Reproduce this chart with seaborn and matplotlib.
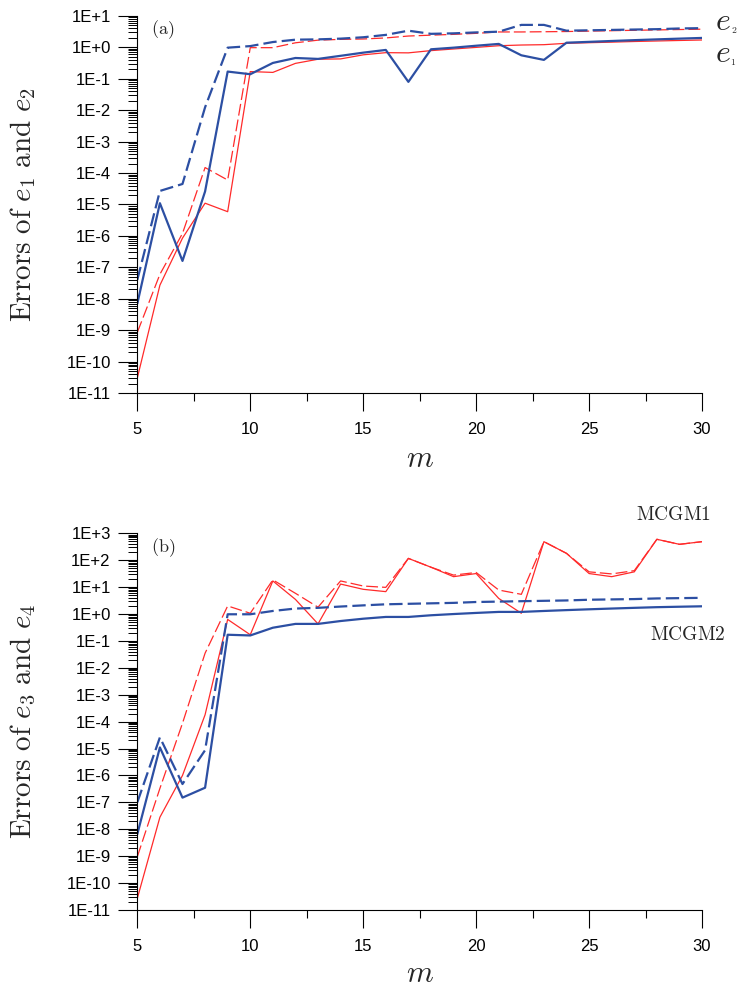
import numpy as np
import pandas as pd
import matplotlib
matplotlib.use("Agg")
import matplotlib.pyplot as plt
import matplotlib.ticker as mticker
import seaborn as sns

# ----- data -----
m = list(range(5, 31))

# panel (a)
e1_mcgm2 = [7e-9, 1.1e-5, 1.6e-7, 2.6e-5, 0.17, 0.14, 0.32, 0.46, 0.43, 0.54, 0.68, 0.83, 0.08,
            0.87, 0.98, 1.13, 1.29, 0.56, 0.40, 1.41, 1.5, 1.6, 1.7, 1.8, 1.9, 2.0]
e1_mcgm1 = [3e-11, 2.7e-8, 8.5e-7, 1.1e-5, 5.9e-6, 0.17, 0.16, 0.31, 0.42, 0.43, 0.58, 0.68, 0.67,
            0.79, 0.89, 1.0, 1.13, 1.19, 1.22, 1.35, 1.41, 1.47, 1.54, 1.6, 1.66, 1.72]
e2_mcgm2 = [4e-8, 2.7e-5, 4.5e-5, 0.0124, 0.98, 1.1, 1.48, 1.76, 1.8, 1.9, 2.1, 2.5, 3.4,
            2.7, 2.8, 3.0, 3.16, 5.2, 5.2, 3.4, 3.5, 3.6, 3.7, 3.8, 4.0, 4.1]
e2_mcgm1 = [8.5e-10, 6e-8, 1.2e-6, 1.5e-4, 6e-5, 0.98, 0.98, 1.4, 1.7, 1.8, 1.85, 2.0, 2.3,
            2.45, 2.6, 2.8, 3.1, 3.1, 3.15, 3.2, 3.3, 3.4, 3.5, 3.6, 3.7, 3.8]

# panel (b)
e3_mcgm2 = [6.6e-9, 1.1e-5, 1.5e-7, 3.5e-7, 0.17, 0.16, 0.31, 0.43, 0.43, 0.55, 0.67, 0.78, 0.78,
            0.9, 1.0, 1.1, 1.2, 1.2, 1.3, 1.4, 1.5, 1.6, 1.7, 1.8, 1.87, 1.94]
e4_mcgm2 = [1e-7, 2.6e-5, 4.8e-7, 8.7e-6, 0.98, 0.98, 1.3, 1.6, 1.7, 1.9, 2.1, 2.3, 2.4,
            2.5, 2.6, 2.8, 2.9, 3.0, 3.1, 3.2, 3.4, 3.5, 3.6, 3.8, 3.9, 4.0]
e3_mcgm1 = [2.7e-11, 2.8e-8, 1e-6, 1.8e-4, 0.63, 0.17, 17, 3.5, 0.43, 13, 8.3, 6.8, 117,
            55, 24.5, 32, 3.8, 1.07, 490, 180, 32, 24.5, 37, 600, 390, 490]
e4_mcgm1 = [9.5e-10, 3.3e-7, 8.7e-5, 0.035, 2.0, 1.07, 18.6, 5.9, 1.8, 17, 11, 9.8, 117,
            55, 28, 35, 7.8, 5.4, 490, 180, 37, 31, 41, 600, 390, 490]

BLUE = "#2c4fa3"
RED = "#ff2a2a"


def long_frame(solid1, solid2, dash1, dash2):
    parts = []
    for vals, meth, kind in [(solid1, "MCGM1", "solid"), (dash1, "MCGM1", "dash"),
                             (solid2, "MCGM2", "solid"), (dash2, "MCGM2", "dash")]:
        parts.append(pd.DataFrame({"m": m, "err": vals, "method": meth,
                                   "series": meth + " " + kind}))
    return pd.concat(parts, ignore_index=True)


sns.set_style("ticks")
plt.rcParams["font.family"] = ["Liberation Sans", "DejaVu Sans"]
plt.rcParams["mathtext.fontset"] = "cm"

fig = plt.figure(figsize=(7.39, 9.86), dpi=100)
ax1 = fig.add_axes([0.1858, 0.6014, 0.7642, 0.3824])
ax2 = fig.add_axes([0.1858, 0.0771, 0.7642, 0.3820])

dashes = {"MCGM1 solid": "", "MCGM1 dash": (9.5, 3.2),
          "MCGM2 solid": "", "MCGM2 dash": (6, 2.3)}


def draw(ax, df, top, ylab, tag, xlab_y):
    sns.lineplot(data=df, x="m", y="err", hue="method", size="method", style="series",
                 hue_order=["MCGM1", "MCGM2"], palette={"MCGM1": RED, "MCGM2": BLUE},
                 sizes={"MCGM1": 0.9, "MCGM2": 1.6}, dashes=dashes,
                 estimator=None, legend=False, ax=ax)
    ax.set_yscale("log")
    ax.set_xlim(5, 30)
    ax.set_ylim(1e-11, top)
    ax.xaxis.set_major_locator(mticker.MultipleLocator(5))
    ax.xaxis.set_minor_locator(mticker.MultipleLocator(2.5))
    ax.yaxis.set_major_locator(mticker.LogLocator(base=10, numticks=30))
    ax.yaxis.set_minor_locator(mticker.LogLocator(base=10, subs=np.arange(2, 10), numticks=30))
    ax.yaxis.set_major_formatter(mticker.FuncFormatter(
        lambda v, p: "1E{:+d}".format(int(round(np.log10(v))))))
    ax.yaxis.set_minor_formatter(mticker.NullFormatter())
    ax.tick_params(axis="y", which="major", length=13.7, width=0.8, pad=5.5,
                   labelsize=12, color="black", labelcolor="black")
    ax.tick_params(axis="y", which="minor", length=6.5, width=0.7, color="black")
    ax.tick_params(axis="x", which="major", length=13.2, width=0.8, pad=8,
                   labelsize=12, color="black", labelcolor="black")
    ax.tick_params(axis="x", which="minor", length=6, width=0.8, color="black")
    sns.despine(ax=ax)
    for s in ["left", "bottom"]:
        ax.spines[s].set_color("black")
        ax.spines[s].set_linewidth(0.8)
    ax.set_xlabel("$m$", fontsize=22)
    ax.xaxis.set_label_coords(0.5, xlab_y)
    ax.set_ylabel(ylab, fontsize=21)
    ax.yaxis.set_label_coords(-0.175, 0.5)
    ax.text(0.045, 0.963, tag, transform=ax.transAxes, ha="center", va="center",
            fontsize=13)


draw(ax1, long_frame(e1_mcgm1, e1_mcgm2, e2_mcgm1, e2_mcgm2), 1e1,
     r"$\mathrm{Errors\ of\ }e_1\mathrm{\ and\ }e_2$", r"$\mathrm{(a)}$", -0.135)
draw(ax2, long_frame(e3_mcgm1, e3_mcgm2, e4_mcgm1, e4_mcgm2), 1e3,
     r"$\mathrm{Errors\ of\ }e_3\mathrm{\ and\ }e_4$", r"$\mathrm{(b)}$", -0.13)

# curve labels: large italic e with a tiny subscript
ax1.text(30.58, 6.2, "$e$", fontsize=23, ha="left", va="center")
ax1.text(31.42, 3.58, r"$\mathrm{2}$", fontsize=7, ha="center", va="center")
ax1.text(30.58, 0.60, "$e$", fontsize=23, ha="left", va="center")
ax1.text(31.37, 0.344, r"$\mathrm{1}$", fontsize=7, ha="center", va="center")
ax2.text(28.72, 4800, r"$\mathrm{MCGM1}$", fontsize=14, ha="center", va="center")
ax2.text(29.37, 0.166, r"$\mathrm{MCGM2}$", fontsize=14, ha="center", va="center")

fig.savefig("out.png", dpi=100)
